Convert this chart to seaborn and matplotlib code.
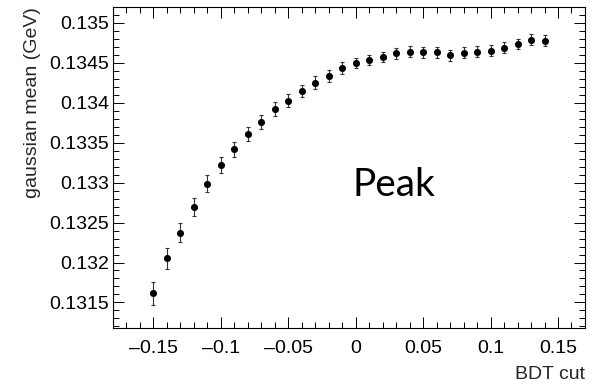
import matplotlib
matplotlib.use("Agg")
import matplotlib.pyplot as plt
from matplotlib.ticker import MultipleLocator, FuncFormatter
import seaborn as sns
import pandas as pd
import numpy as np

bdt_cut = [-0.15, -0.14, -0.13, -0.12, -0.11, -0.10, -0.09, -0.08, -0.07, -0.06,
           -0.05, -0.04, -0.03, -0.02, -0.01, 0.00, 0.01, 0.02, 0.03, 0.04,
           0.05, 0.06, 0.07, 0.08, 0.09, 0.10, 0.11, 0.12, 0.13, 0.14]
gauss_mean = [0.131617, 0.132054, 0.132375, 0.132696, 0.132988, 0.133220, 0.133420, 0.133613,
              0.133763, 0.133925, 0.134029, 0.134150, 0.134254, 0.134333, 0.134433, 0.134496,
              0.134538, 0.134571, 0.134621, 0.134638, 0.134633, 0.134633, 0.134596, 0.134629,
              0.134642, 0.134654, 0.134692, 0.134738, 0.134788, 0.134779]
gauss_err = [0.000144, 0.000133, 0.000119, 0.000115, 0.000108, 0.000100, 0.000094, 0.000088,
             0.000087, 0.000084, 0.000081, 0.000078, 0.000077, 0.000073, 0.000072, 0.000066,
             0.000066, 0.000066, 0.000070, 0.000068, 0.000068, 0.000067, 0.000066, 0.000068,
             0.000068, 0.000067, 0.000066, 0.000066, 0.000068, 0.000066]

df = pd.DataFrame({"BDT cut": bdt_cut, "mean": gauss_mean, "err": gauss_err})

sns.set_theme(style="ticks")
plt.rcParams['font.family'] = ['Liberation Sans', 'DejaVu Sans']

fig = plt.figure(figsize=(5.96, 3.87), dpi=100)
ax = fig.add_axes([0.1896, 0.1525, 0.7919, 0.8294])

ax.errorbar(df["BDT cut"], df["mean"], yerr=df["err"], fmt="none",
            ecolor="#333333", elinewidth=0.8, capsize=1.5, capthick=0.8, zorder=2)
sns.scatterplot(data=df, x="BDT cut", y="mean", ax=ax, color="black",
                s=26, edgecolor="black", linewidth=0, zorder=3)

ax.set_xlim(-0.18, 0.17)
ax.set_ylim(0.13118, 0.1352)
ax.xaxis.set_major_locator(MultipleLocator(0.05))
ax.xaxis.set_minor_locator(MultipleLocator(0.01))
ax.yaxis.set_major_locator(MultipleLocator(0.0005))
ax.yaxis.set_minor_locator(MultipleLocator(0.0001))

def xfmt(v, p):
    if abs(v) < 1e-9:
        return "0"
    s = ("%.2f" % v).rstrip("0").rstrip(".")
    return s.replace("-", "\u2013")

def yfmt(v, p):
    return ("%.5f" % v).rstrip("0").rstrip(".")

ax.xaxis.set_major_formatter(FuncFormatter(xfmt))
ax.yaxis.set_major_formatter(FuncFormatter(yfmt))

ax.tick_params(which="both", direction="in", top=True, right=True, colors="black",
               labelsize=14, width=0.7)
ax.tick_params(which="major", length=8)
ax.tick_params(which="minor", length=4)
ax.tick_params(axis="x", pad=9)
ax.tick_params(axis="y", pad=3)
for sp in ax.spines.values():
    sp.set_linewidth(0.8)
    sp.set_color("black")

ax.set_xlabel("BDT cut", fontsize=14, loc="right", labelpad=6)
ax.set_ylabel("gaussian mean (GeV)", fontsize=14, loc="top", labelpad=6)

ax.text(-0.0022, 0.132838, "Peak", fontsize=28, family=["Lato", "DejaVu Sans"],
        ha="left", va="baseline", color="black")

fig.savefig("out.png", dpi=100)
